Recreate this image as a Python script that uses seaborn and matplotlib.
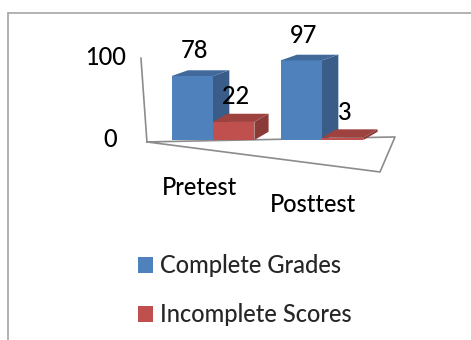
import numpy as np
import pandas as pd
import matplotlib
matplotlib.use("Agg")
import matplotlib.pyplot as plt
from matplotlib.patches import Polygon, Patch
from matplotlib.lines import Line2D
import matplotlib.colors as mcolors
import seaborn as sns

# ---- data ----
tests = ["Pretest", "Posttest"]
series = ["Complete Grades", "Incomplete Scores"]
complete = [78, 97]
incomplete = [22, 3]
yticks = [0, 100]
colors = ["#4F81BD", "#C0504D"]

df = pd.DataFrame({
    "Test": tests * 2,
    "Series": [series[0]] * 2 + [series[1]] * 2,
    "Score": complete + incomplete,
})

sns.set_theme(style="white")
plt.rcParams["font.family"] = ["Lato", "DejaVu Sans"]
plt.rcParams["font.weight"] = 500
FS = 17

fig = plt.figure(figsize=(4.71, 3.40), dpi=100)
ax = fig.add_axes([0, 0, 1, 1])

sns.barplot(data=df, x="Test", y="Score", hue="Series", order=tests,
            hue_order=series, palette=colors, width=0.76, saturation=1,
            edgecolor="none", linewidth=0, legend=False, ax=ax)

# pixel-like framing
ax.set_xlim(-1.954, 2.367)
ax.set_ylim(-243.9, 170.7)
ax.axis("off")

# floor and value axis (pseudo-3D frame)
fl_left = (-0.606, -2.4)
fl_back_right = (1.670, 3.7)
fl_front_right = (1.532, -39.0)
ax.add_line(Line2D([fl_left[0], fl_back_right[0], fl_front_right[0], fl_left[0]],
                   [fl_left[1], fl_back_right[1], fl_front_right[1], fl_left[1]],
                   color="#8C8C8C", lw=1.2, zorder=0.5))
ax.add_line(Line2D([-0.661, fl_left[0]], [100, fl_left[1]],
                   color="#8C8C8C", lw=1.2, zorder=0.5))
for t, xr in zip(yticks, [-0.88, -0.80]):
    ax.text(xr, t, str(t), ha="right", va="center", fontsize=FS, color="black")

# 3D faces
depth = [(0.15, 7.0), (0.13, 10.0)]
def darken(c, f):
    r, g, b = mcolors.to_rgb(c)
    return (r * f, g * f, b * f)

n = len(tests)
for i, p in enumerate(ax.patches):
    s_idx = i // n
    ddx, ddy = depth[s_idx]
    z = 2 + s_idx
    p.set_zorder(z)
    x0 = p.get_x(); w = p.get_width(); h = p.get_height(); x1 = x0 + w
    fc = p.get_facecolor()
    top = Polygon([(x0, h), (x1, h), (x1 + ddx, h + ddy), (x0 + ddx, h + ddy)],
                  closed=True, facecolor=darken(fc, 0.82), edgecolor="none", zorder=z)
    side = Polygon([(x1, 0), (x1, h), (x1 + ddx, h + ddy), (x1 + ddx, ddy)],
                   closed=True, facecolor=darken(fc, 0.72), edgecolor="none", zorder=z)
    ax.add_patch(side)
    ax.add_patch(top)
    ax.text(x0 + w / 2 + 0.02, h + 31, f"{h:.0f}", ha="center", va="center",
            fontsize=FS, color="black", zorder=5)

# category labels (staggered by perspective)
cat_pos = [(-0.128, -58), (0.917, -79)]
for lab, (cx, cy) in zip(tests, cat_pos):
    ax.text(cx, cy, lab, ha="center", va="center", fontsize=FS, color="black")

# legend
handles = [Patch(facecolor=c, edgecolor="none") for c in colors]
fig.legend(handles, series, loc="center", bbox_to_anchor=(0.52, 0.146),
           frameon=False, fontsize=FS, handlelength=0.64, handleheight=0.64,
           handletextpad=0.3, labelspacing=1.1)

# chart border (top and left visible)
fig.add_artist(Line2D([8 / 471, 1.0], [1 - 13 / 340, 1 - 13 / 340],
                      transform=fig.transFigure, color="#A6A6A6", lw=1.2))
fig.add_artist(Line2D([8 / 471, 8 / 471], [0, 1 - 13 / 340],
                      transform=fig.transFigure, color="#A6A6A6", lw=1.2))

fig.savefig("out.png", dpi=100)
